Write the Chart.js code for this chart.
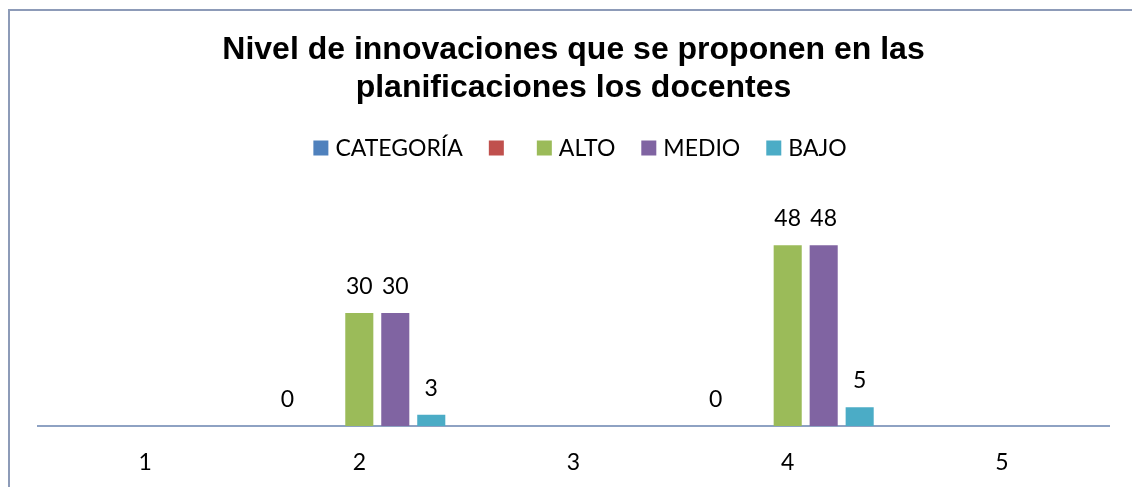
<!DOCTYPE html>
<html>
<head>
<meta charset="utf-8">
<script src="https://cdn.jsdelivr.net/npm/chart.js@4"></script>
<style>
  html, body { margin: 0; padding: 0; background: #fff; overflow: hidden; }
  #frame { position: absolute; left: 8px; top: 9px; width: 2000px; height: 2000px; border: 2px solid #8D9BB8; }
  #wrap { position: absolute; left: 0; top: 0; width: 1132px; height: 487px; }
</style>
</head>
<body>
<div id="frame"></div>
<div id="wrap"><canvas id="chart" width="1132" height="487"></canvas></div>
<script>
// --- DATA ---
const categories = ['1', '2', '3', '4', '5'];
const seriesNames = ['CATEGORÍA', '', 'ALTO', 'MEDIO', 'BAJO'];
const categoria = [null, 0, null, 0, null];
const vacio = [null, null, null, null, null];
const alto = [null, 30, null, 48, null];
const medio = [null, 30, null, 48, null];
const bajo = [null, 3, null, 5, null];
const colors = ['#4F81BD', '#C0504D', '#9BBB59', '#8064A2', '#4BACC6'];

const labelFont = 'Lato, "Open Sans", sans-serif';

// value labels above each bar
const valueLabels = {
    id: 'valueLabels',
    afterDatasetsDraw(chart) {
        const ctx = chart.ctx;
        ctx.save();
        ctx.font = '23px ' + labelFont;
        ctx.fillStyle = '#000';
        ctx.textAlign = 'center';
        ctx.textBaseline = 'bottom';
        chart.data.datasets.forEach((ds, i) => {
            const meta = chart.getDatasetMeta(i);
            meta.data.forEach((bar, j) => {
                const v = ds.data[j];
                if (v === null || v === undefined) return;
                ctx.fillText(String(v), bar.x, bar.y - 15);
            });
        });
        ctx.restore();
    }
};

// legend drawn by hand, Excel-like spacing (box, small gap, text, wide gap)
const excelLegend = {
    id: 'excelLegend',
    afterDraw(chart) {
        const ctx = chart.ctx;
        const box = 15, gap = 7, between = 26, cy = 148;
        ctx.save();
        ctx.font = '23px ' + labelFont;
        ctx.textBaseline = 'middle';
        ctx.textAlign = 'left';
        const items = chart.data.datasets.map(ds => ({
            text: ds.label, color: ds.backgroundColor, w: ctx.measureText(ds.label).width
        }));
        let total = 0;
        items.forEach((it, i) => {
            total += box + gap + it.w + (i < items.length - 1 ? between : 0);
        });
        let x = 580 - total / 2;
        items.forEach(it => {
            ctx.fillStyle = it.color;
            ctx.fillRect(x, cy - box / 2, box, box);
            ctx.fillStyle = '#000';
            ctx.fillText(it.text, x + box + gap, cy + 1);
            x += box + gap + it.w + between;
        });
        ctx.restore();
    }
};

const allSeries = [categoria, vacio, alto, medio, bajo];

new Chart(document.getElementById('chart'), {
    type: 'bar',
    data: {
        labels: categories,
        datasets: allSeries.map((d, i) => ({
            label: seriesNames[i],
            data: d,
            backgroundColor: colors[i],
            borderWidth: 0,
            categoryPercentage: 0.84,
            barPercentage: 0.78
        }))
    },
    options: {
        responsive: false,
        animation: false,
        devicePixelRatio: 1,
        layout: { padding: { left: 38, right: 23, top: 0, bottom: 0 } },
        plugins: {
            title: {
                display: true,
                text: ['Nivel de innovaciones que se proponen en las', 'planificaciones los docentes'],
                color: '#000',
                font: { family: '"Liberation Sans", Arial, sans-serif', size: 32, weight: 'bold', lineHeight: 1.19 },
                padding: { top: 31, bottom: 93 }
            },
            legend: { display: false },
            tooltip: { enabled: false }
        },
        scales: {
            x: {
                grid: { display: false, drawTicks: false },
                border: { display: true, color: '#8EA2C3', width: 2 },
                ticks: { color: '#000', font: { family: labelFont, size: 23 }, padding: 23 },
                afterFit(scale) { scale.height = 61; }
            },
            y: {
                display: false,
                min: 0,
                max: 60
            }
        }
    },
    plugins: [valueLabels, excelLegend]
});
</script>
</body>
</html>
